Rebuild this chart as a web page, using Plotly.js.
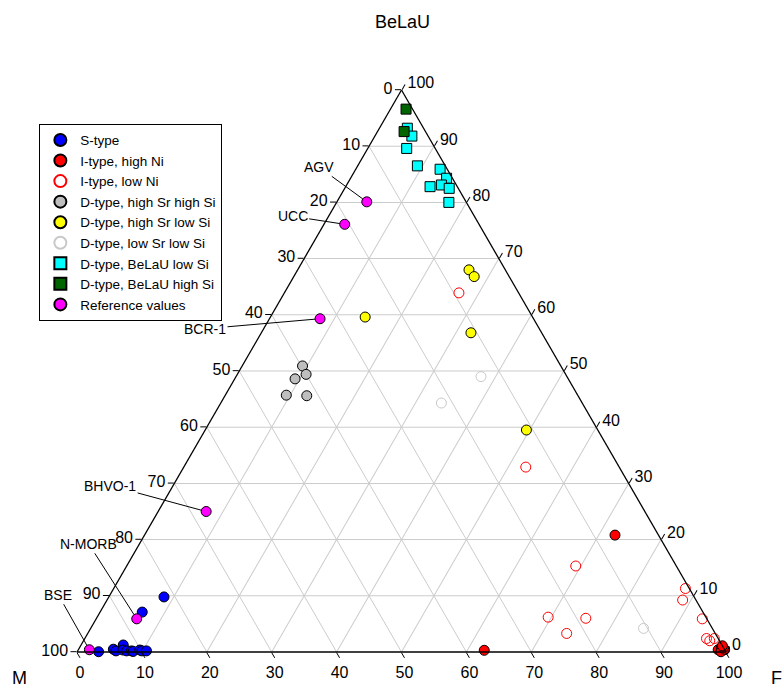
<!DOCTYPE html>
<html>
<head>
<meta charset="utf-8">
<script src="https://cdn.plot.ly/plotly-3.0.1.min.js"></script>
<style>html,body{margin:0;padding:0;background:#fff;}#chart{width:783px;height:687px;}</style>
</head>
<body>
<div id="chart"></div>
<script>
// ---- Data (BeLaU = top vertex, M = bottom-left, F = bottom-right), percent ----
const sType_BeLaU = [9.8, 7.1, 0.05, 0.5, 0.2, 1.25, 0.35, 0.2, 0.2, 0.1, 0.35, 0.2, 0.2];
const sType_M     = [81.7, 86.4, 96.7, 94.15, 93.9, 92.25, 92.75, 92.25, 91.5, 91.3, 90.15, 89.9, 89.2];
const sType_F     = [8.5, 6.5, 3.3, 5.35, 5.9, 6.5, 6.9, 7.55, 8.3, 8.6, 9.5, 9.9, 10.6];

const iHighNi_BeLaU = [20.8, 0.3, 0.4, 0.8, 0.4, 0.05, 0.5, 1.1];
const iHighNi_M     = [6.7, 37.1, 1.0, 0.3, 0.0, 0.75, 0.0, 0.0];
const iHighNi_F     = [72.5, 62.6, 98.6, 98.9, 99.6, 99.2, 99.5, 98.9];

const iLowNi_BeLaU = [63.9, 32.9, 15.3, 6.2, 6.0, 3.3, 11.3, 9.25, 5.9, 2.4, 2.0, 2.4];
const iLowNi_M     = [9.2, 14.4, 15.5, 24.3, 18.6, 22.9, 0.6, 2.05, 0.7, 1.8, 1.5, 0.6];
const iLowNi_F     = [26.9, 52.7, 69.2, 69.5, 75.4, 73.8, 88.1, 88.7, 93.4, 95.8, 96.5, 97.0];

const dHiSrHiSi_BeLaU = [50.9, 49.4, 48.6, 45.7, 45.6];
const dHiSrHiSi_M     = [39.8, 40.0, 42.1, 44.9, 41.8];
const dHiSrHiSi_F     = [9.3, 10.6, 9.3, 9.4, 12.6];

const dHiSrLoSi_BeLaU = [59.6, 68.0, 66.8, 56.8, 39.5];
const dHiSrLoSi_M     = [25.8, 5.6, 5.4, 10.9, 11.0];
const dHiSrLoSi_F     = [14.6, 26.4, 27.8, 32.3, 49.5];

const dLoSrLoSi_BeLaU = [49.0, 44.3, 4.2];
const dLoSrLoSi_M     = [13.25, 21.7, 10.6];
const dLoSrLoSi_F     = [37.75, 34.0, 85.2];

const dBeLaULoSi_BeLaU = [93.2, 91.8, 89.6, 86.5, 85.9, 84.3, 82.8, 83.1, 82.5, 80.0];
const dBeLaULoSi_M     = [2.5, 2.5, 4.4, 4.3, 1.1, 0.9, 4.2, 2.3, 1.4, 2.7];
const dBeLaULoSi_F     = [4.3, 5.7, 6.0, 9.2, 13.0, 14.8, 13.0, 14.6, 16.1, 17.3];

const dBeLaUHiSi_BeLaU = [96.6, 92.6];
const dBeLaUHiSi_M     = [1.0, 3.3];
const dBeLaUHiSi_F     = [2.4, 4.1];

const refNames = ['AGV', 'UCC', 'BCR-1', 'BHVO-1', 'N-MORB', 'BSE'];
const ref_BeLaU = [80.1, 76.1, 59.3, 25.0, 5.9, 0.4];
const ref_M     = [15.3, 20.7, 32.9, 67.6, 87.85, 97.9];
const ref_F     = [4.6, 3.2, 7.8, 7.4, 6.25, 1.7];

const tickVals = [0, 10, 20, 30, 40, 50, 60, 70, 80, 90, 100];

// label offsets (pixels, text centre relative to point)
const refLabelOffsets = [[-48, -35], [-52, -8], [-115, 10], [-96, -26], [-48, -75], [-31, -55]];

const FONT = 'Liberation Sans, Arial, sans-serif';

function tr(name, A, B, C, symbol, fill, line, lw) {
  return {
    type: 'scatterternary', mode: 'markers', name: name,
    a: A, b: B, c: C, cliponaxis: false, hoverinfo: 'skip',
    marker: {symbol: symbol, size: 10, color: fill, line: {color: line, width: lw}}
  };
}

const traces = [
  tr('S-type', sType_BeLaU, sType_M, sType_F, 'circle', '#0000ff', '#000000', 1),
  tr('I-type, high Ni', iHighNi_BeLaU, iHighNi_M, iHighNi_F, 'circle', '#ff0000', '#000000', 1),
  tr('I-type, low Ni', iLowNi_BeLaU, iLowNi_M, iLowNi_F, 'circle-open', '#ff0000', '#ff0000', 1),
  tr('D-type, high Sr high Si', dHiSrHiSi_BeLaU, dHiSrHiSi_M, dHiSrHiSi_F, 'circle', '#bebebe', '#000000', 1),
  tr('D-type, high Sr low Si', dHiSrLoSi_BeLaU, dHiSrLoSi_M, dHiSrLoSi_F, 'circle', '#ffff00', '#000000', 1),
  tr('D-type, low Sr low Si', dLoSrLoSi_BeLaU, dLoSrLoSi_M, dLoSrLoSi_F, 'circle-open', '#c8c8c8', '#c8c8c8', 1),
  tr('D-type, BeLaU low Si', dBeLaULoSi_BeLaU, dBeLaULoSi_M, dBeLaULoSi_F, 'square', '#00ffff', '#000000', 1),
  tr('D-type, BeLaU high Si', dBeLaUHiSi_BeLaU, dBeLaUHiSi_M, dBeLaUHiSi_F, 'square', '#006400', '#000000', 1),
  tr('Reference values', ref_BeLaU, ref_M, ref_F, 'circle', '#ff00ff', '#000000', 1)
];

function axis() {
  return {
    title: {text: ''},
    tickmode: 'array', tickvals: tickVals,
    ticktext: tickVals.map(v => String(100 - v)),
    ticks: 'outside', ticklen: 6, tickcolor: '#000', tickwidth: 1,
    tickfont: {family: FONT, size: 16, color: '#000'},
    linecolor: '#000', linewidth: 1.3, showline: true,
    showgrid: true, gridcolor: '#cccccc', gridwidth: 1
  };
}

// annotations for reference samples: paper position from ternary values
const annotations = refNames.map((n, i) => {
  const s = ref_BeLaU[i] + ref_M[i] + ref_F[i];
  const a = ref_BeLaU[i] / s, c = ref_F[i] / s;
  return {
    xref: 'paper', yref: 'paper', x: c + a / 2, y: a,
    text: n, showarrow: true, arrowhead: 0, arrowwidth: 1, arrowcolor: '#000',
    ax: refLabelOffsets[i][0], ay: refLabelOffsets[i][1], standoff: 5,
    font: {family: FONT, size: 14, color: '#000'}
  };
});
annotations.push(
  {xref: 'paper', yref: 'paper', x: 0.502, y: 1.121, xanchor: 'center', yanchor: 'middle',
   text: 'BeLaU', showarrow: false, font: {family: FONT, size: 18, color: '#000'}},
  {xref: 'paper', yref: 'paper', x: -0.089, y: -0.046, xanchor: 'center', yanchor: 'middle',
   text: 'M', showarrow: false, font: {family: FONT, size: 18, color: '#000'}},
  {xref: 'paper', yref: 'paper', x: 1.078, y: -0.046, xanchor: 'center', yanchor: 'middle',
   text: 'F', showarrow: false, font: {family: FONT, size: 18, color: '#000'}}
);

const layout = {
  width: 783, height: 687,
  margin: {l: 77, r: 57, t: 90, b: 35},
  paper_bgcolor: '#fff',
  font: {family: FONT, color: '#000'},
  showlegend: true,
  legend: {
    x: -0.058, y: 0.94, xanchor: 'left', yanchor: 'top',
    bgcolor: '#fff', bordercolor: '#000', borderwidth: 1,
    font: {family: FONT, size: 13.5, color: '#000'},
    itemsizing: 'constant', entrywidth: 180, entrywidthmode: 'pixels'
  },
  ternary: {
    sum: 100, bgcolor: '#fff',
    domain: {x: [0, 1], y: [0, 1]},
    aaxis: axis(), baxis: axis(), caxis: axis()
  },
  annotations: annotations
};

Plotly.newPlot('chart', traces, layout, {staticPlot: true, displayModeBar: false});
</script>
</body>
</html>
